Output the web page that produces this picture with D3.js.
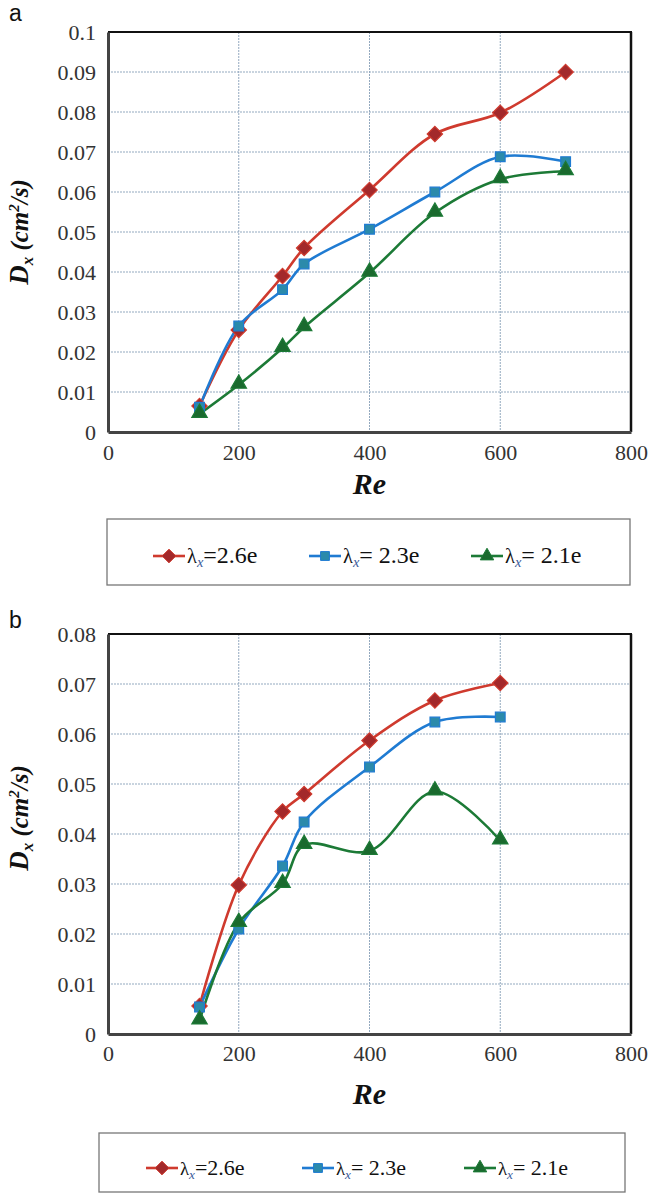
<!DOCTYPE html>
<html><head><meta charset="utf-8">
<script src="https://cdn.jsdelivr.net/npm/d3@7"></script>
<style>body{margin:0;background:#fff}svg{display:block}</style>
</head><body>
<svg id="c" width="650" height="1193"></svg>
<script>
// ---------- data ----------
const seriesNames = ["2.6e", "2.3e", "2.1e"];
const legendLabels = ["=2.6e", "= 2.3e", "= 2.1e"];
const xTicks = [0, 200, 400, 600, 800];
const yTicksA = [0, 0.01, 0.02, 0.03, 0.04, 0.05, 0.06, 0.07, 0.08, 0.09, 0.1];
const yTicksB = [0, 0.01, 0.02, 0.03, 0.04, 0.05, 0.06, 0.07, 0.08];

const reA = [140, 200, 267, 300, 400, 500, 600, 700];
const a26 = [0.0065, 0.0255, 0.0390, 0.0460, 0.0605, 0.0745, 0.0798, 0.0900];
const a23 = [0.0062, 0.0265, 0.0356, 0.0420, 0.0507, 0.0600, 0.0688, 0.0676];
const a21 = [0.0045, 0.0118, 0.0210, 0.0262, 0.0398, 0.0548, 0.0632, 0.0652];

const reB = [140, 200, 267, 300, 400, 500, 600];
const b26 = [0.0056, 0.0298, 0.0445, 0.0480, 0.0587, 0.0667, 0.0702];
const b23 = [0.0054, 0.0210, 0.0336, 0.0424, 0.0534, 0.0624, 0.0634];
const b21 = [0.0027, 0.0222, 0.0300, 0.0378, 0.0366, 0.0485, 0.0387];

// ---------- style ----------
const lineColors = ["#cf3a2e", "#1f7bd2", "#1c7a36"];
const fillColors = ["#a3292b", "#2b8aab", "#1a6a2e"];
const markerTypes = [d3.symbolDiamond2, d3.symbolSquare2, d3.symbolTriangle2];
const serif = "Liberation Serif";

const svg = d3.select("#c");

function panel(opts) {
  const {letter, letterY, top, bottom, yMax, yTicks, re, series, labelY, reY, tickY, legend} = opts;
  const left = 108, right = 631;
  const x = d3.scaleLinear().domain([0, 800]).range([left, right]);
  const y = d3.scaleLinear().domain([0, yMax]).range([bottom, top]);
  const g = svg.append("g");

  g.append("text").attr("x", 9).attr("y", letterY)
    .style("font-family", "Liberation Sans").style("font-size", "23px")
    .attr("fill", "#111").text(letter);

  // grid
  g.append("g").selectAll("line").data(yTicks.slice(1)).join("line")
    .attr("x1", left).attr("x2", right).attr("y1", d => y(d)).attr("y2", d => y(d))
    .attr("stroke", "#93a9bf").attr("stroke-width", 1).attr("stroke-dasharray", "2,1");
  g.append("g").selectAll("line").data(xTicks.slice(1, -1)).join("line")
    .attr("y1", top).attr("y2", bottom).attr("x1", d => x(d)).attr("x2", d => x(d))
    .attr("stroke", "#93a9bf").attr("stroke-width", 1).attr("stroke-dasharray", "2,1");

  // frame
  g.append("line").attr("x1", left).attr("x2", right + 1).attr("y1", top).attr("y2", top)
    .attr("stroke", "#111").attr("stroke-width", 2);
  g.append("line").attr("x1", right).attr("x2", right).attr("y1", top).attr("y2", bottom)
    .attr("stroke", "#111").attr("stroke-width", 2.5);

  // axes
  const yAxis = d3.axisLeft(y).tickValues(yTicks).tickSize(0).tickPadding(12)
    .tickFormat(d => d === 0 ? "0" : String(+d.toFixed(2)));
  const ya = g.append("g").attr("transform", `translate(${left},0)`).call(yAxis)
    .style("font-family", serif).style("font-size", "22px");
  ya.select(".domain").attr("stroke", "#444").attr("stroke-width", 3);
  ya.selectAll("text").style("font-family", serif).style("font-size", "22px").attr("fill", "#333");

  const xAxis = d3.axisBottom(x).tickValues(xTicks).tickSize(0).tickPadding(0).tickFormat(d3.format("d"));
  const xa = g.append("g").attr("transform", `translate(0,${bottom})`).call(xAxis)
    .style("font-family", serif).style("font-size", "22px");
  xa.select(".domain").attr("stroke", "#444").attr("stroke-width", 3);
  xa.selectAll("text").style("font-family", serif).style("font-size", "22px").attr("fill", "#333")
    .attr("dy", null).attr("y", tickY - bottom);

  // axis titles
  g.append("text").attr("x", (left + right) / 2).attr("y", reY).attr("text-anchor", "middle")
    .style("font-family", serif).style("font-size", "30px").style("font-weight", "bold")
    .style("font-style", "italic").attr("fill", "#111").text("Re");

  const yt = g.append("text").attr("transform", `translate(28,${labelY}) rotate(-90)`)
    .attr("text-anchor", "middle").style("font-family", serif).style("font-weight", "bold")
    .style("font-style", "italic").attr("fill", "#111").style("font-size", "25px");
  yt.append("tspan").style("font-size", "27px").text("D");
  yt.append("tspan").style("font-size", "17px").attr("dy", 5).text("x");
  yt.append("tspan").attr("dy", -5).text(" (cm");
  yt.append("tspan").style("font-size", "15px").attr("dy", -9).text("2");
  yt.append("tspan").attr("dy", 9).text("/s)");

  // series
  const line = d3.line().x(d => x(d[0])).y(d => y(d[1])).curve(d3.curveCatmullRom.alpha(0.5));
  series.forEach((vals, i) => {
    const pts = re.map((r, k) => [r, vals[k]]);
    g.append("path").datum(pts).attr("d", line).attr("fill", "none")
      .attr("stroke", lineColors[i]).attr("stroke-width", 2.6);
  });
  series.forEach((vals, i) => {
    const pts = re.map((r, k) => [r, vals[k]]);
    const size = i === 0 ? 150 : i === 1 ? 120 : 170;
    g.append("g").selectAll("path").data(pts).join("path")
      .attr("transform", d => `translate(${x(d[0])},${y(d[1]) + (i === 2 ? -1 : 0)})`)
      .attr("d", d3.symbol().type(markerTypes[i]).size(size))
      .attr("fill", fillColors[i]).attr("stroke", lineColors[i]).attr("stroke-width", 1.2);
  });

  // legend
  const L = legend;
  g.append("rect").attr("x", L.x0).attr("y", L.y0).attr("width", L.x1 - L.x0).attr("height", L.y1 - L.y0)
    .attr("fill", "#fff").attr("stroke", "#777").attr("stroke-width", 1.3);
  seriesNames.forEach((name, i) => {
    const lx = L.items[i];
    const cy = L.baseline - 7;
    g.append("line").attr("x1", lx).attr("x2", lx + 32).attr("y1", cy).attr("y2", cy)
      .attr("stroke", lineColors[i]).attr("stroke-width", 2.6);
    g.append("path").attr("transform", `translate(${lx + 16},${cy})`)
      .attr("d", d3.symbol().type(markerTypes[i]).size(i === 0 ? 120 : i === 1 ? 100 : 130))
      .attr("fill", fillColors[i]).attr("stroke", lineColors[i]).attr("stroke-width", 1);
    const t = g.append("text").attr("x", lx + 34).attr("y", L.baseline)
      .style("font-family", serif).style("font-size", L.fs + "px").attr("fill", "#111");
    t.append("tspan").style("font-size", (L.fs * 0.85) + "px").text("λ");
    t.append("tspan").style("font-size", (L.fs * 0.6) + "px").style("font-style", "italic")
      .attr("fill", "#3a5a9a").attr("dy", 4).text("x");
    t.append("tspan").attr("dy", -4).text(legendLabels[i]);
  });
}

panel({
  letter: "a", letterY: 21, top: 32, bottom: 432, yMax: 0.1, yTicks: yTicksA,
  re: reA, series: [a26, a23, a21], labelY: 232, reY: 494, tickY: 460,
  legend: {x0: 107, x1: 630, y0: 519, y1: 585, items: [153, 309, 471], baseline: 563, fs: 24}
});
panel({
  letter: "b", letterY: 628, top: 634, bottom: 1034, yMax: 0.08, yTicks: yTicksB,
  re: reB, series: [b26, b23, b21], labelY: 818, reY: 1104, tickY: 1061,
  legend: {x0: 99, x1: 625, y0: 1133, y1: 1192, items: [146, 302, 464], baseline: 1175, fs: 22}
});
</script>
</body></html>
